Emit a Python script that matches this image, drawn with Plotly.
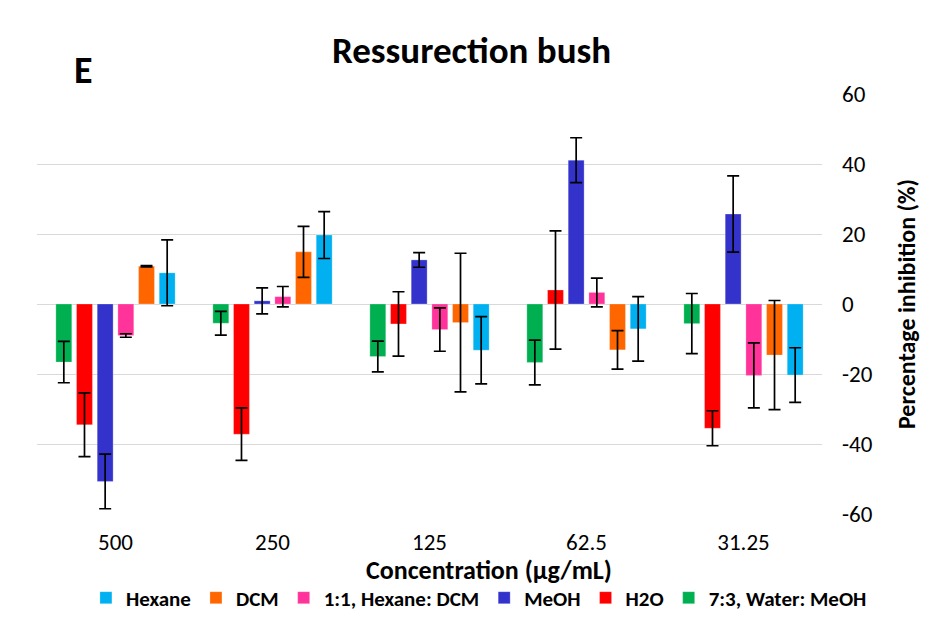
import plotly.graph_objects as go

concentrations = ["500", "250", "125", "62.5", "31.25"]
y_tick_values = [-60, -40, -20, 0, 20, 40, 60]
y_tick_labels = ["-60", "-40", "-20", "0", "20", "40", "60"]

# values per extract (% inhibition) and their error bars
water_meoh = [-16.6, -5.5, -15.0, -16.7, -5.6]
water_meoh_err = [5.9, 3.4, 4.4, 6.4, 8.6]
h2o = [-34.5, -37.2, -5.7, 4.0, -35.5]
h2o_err = [9.1, 7.5, 9.2, 16.9, 5.0]
meoh = [-50.7, 0.9, 12.6, 41.1, 25.7]
meoh_err = [7.8, 3.7, 2.1, 6.4, 10.9]
hex_dcm = [-9.0, 2.1, -7.3, 3.3, -20.4]
hex_dcm_err = [0.5, 2.9, 6.2, 4.1, 9.3]
dcm = [10.8, 14.9, -5.3, -13.1, -14.6]
dcm_err = [0.2, 7.3, 19.8, 5.5, 15.6]
hexane = [8.9, 19.7, -13.2, -7.1, -20.3]
hexane_err = [9.4, 6.7, 9.6, 9.2, 7.8]

series = [
    ("7:3, Water: MeOH", water_meoh, water_meoh_err, "#00B050"),
    ("H2O", h2o, h2o_err, "#FF0000"),
    ("MeOH", meoh, meoh_err, "#3333CC"),
    ("1:1, Hexane: DCM", hex_dcm, hex_dcm_err, "#FF3399"),
    ("DCM", dcm, dcm_err, "#FF6600"),
    ("Hexane", hexane, hexane_err, "#00B0F0"),
]

font_family = "Carlito, Calibri, Lato, sans-serif"

fig = go.Figure()
for name, vals, errs, color in series:
    fig.add_trace(go.Bar(
        x=concentrations,
        y=vals,
        name=name,
        marker=dict(color=color, line=dict(color="rgba(255,255,255,0.5)", width=0.5)),
        error_y=dict(type="data", array=errs, visible=True,
                     color="black", thickness=1.7, width=6),
    ))

# page body has an 8px margin, so the figure is 8px smaller than the window
fig.update_layout(
    width=927,
    height=625,
    paper_bgcolor="white",
    plot_bgcolor="white",
    barmode="group",
    bargap=0.21,
    bargroupgap=0.23,
    margin=dict(l=29, r=113, t=86, b=119, autoexpand=False),
    font=dict(family=font_family, color="black"),
    title=dict(
        text="Ressurection bush",
        x=0.5, xanchor="center",
        y=0.933, yanchor="middle",
        font=dict(size=37, family=font_family, color="black", weight="bold"),
    ),
    legend=dict(
        orientation="h",
        traceorder="reversed",
        xref="container", yref="container",
        x=0.508, xanchor="center",
        y=0.056, yanchor="middle",
        font=dict(size=21, family=font_family, color="black", weight="bold"),
        itemwidth=30,
        tracegroupgap=0,
    ),
    showlegend=True,
)

fig.update_xaxes(
    type="category",
    showgrid=False,
    showline=False,
    ticks="",
    automargin=False,
    ticklabelstandoff=12,
    tickfont=dict(size=23, family=font_family),
)

fig.update_yaxes(
    side="right",
    range=[-60, 60],
    tickvals=y_tick_values,
    ticktext=y_tick_labels,
    showgrid=True,
    gridcolor="#D9D9D9",
    gridwidth=1.3,
    zeroline=True,
    zerolinecolor="#D9D9D9",
    zerolinewidth=1.3,
    showline=False,
    ticks="",
    automargin=False,
    ticklabelstandoff=19,
    tickfont=dict(size=23, family=font_family),
    title=dict(text="Percentage inhibition (%)", standoff=26,
               font=dict(size=24, family=font_family, weight="bold")),
)

# x axis title sits right of centre in the original
fig.add_annotation(
    text="Concentration (µg/mL)",
    xref="paper", yref="paper",
    x=0.576, y=-0.134,
    xanchor="center", yanchor="middle",
    showarrow=False,
    font=dict(size=26, family=font_family, color="black", weight="bold"),
)

# panel letter sits in a white box that hides the start of the top gridline
fig.add_shape(
    type="rect", xref="paper", yref="paper",
    x0=-0.002, x1=0.126, y0=0.985, y1=1.015,
    fillcolor="white", line=dict(width=0), layer="above",
)
fig.add_annotation(
    text="E",
    xref="paper", yref="paper",
    x=0.044, y=1.058,
    xanchor="left", yanchor="middle",
    showarrow=False,
    font=dict(size=38, family=font_family, color="black", weight="bold"),
)

fig.write_html("out.html")
